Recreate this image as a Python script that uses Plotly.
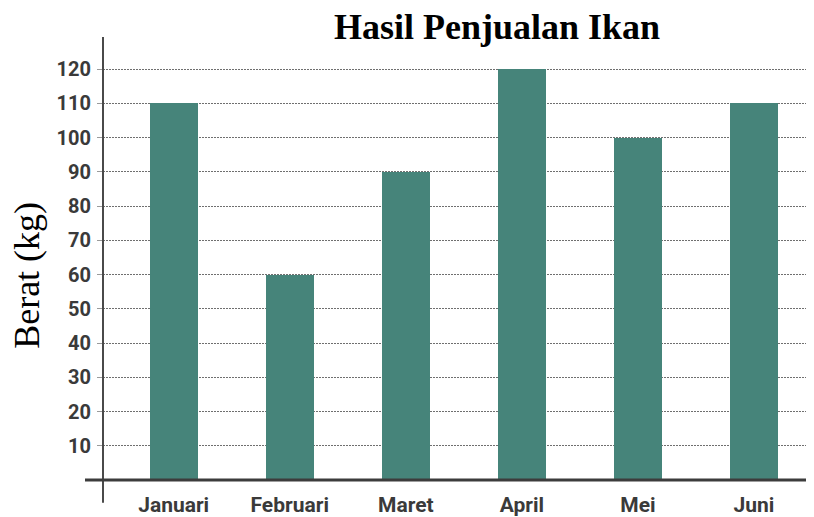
import plotly.graph_objects as go

months = ["Januari", "Februari", "Maret", "April", "Mei", "Juni"]
berat = [110, 60, 90, 120, 100, 110]
y_ticks = [10, 20, 30, 40, 50, 60, 70, 80, 90, 100, 110, 120]
title_text = "Hasil Penjualan Ikan"
y_title = "Berat (kg)"

# page body has an 8px margin, so the figure is sized/positioned accordingly
OFF = 8
W, H = 814 - OFF, 517 - OFF
L, R, T, B = 103 - OFF, 0, 37 - OFF, 33
PW, PH = W - L - R, H - T - B

def px_x(x):
    return (x - OFF - L) / PW

def px_y(y):
    return ((H - B) - (y - OFF)) / PH

fig = go.Figure()
fig.add_trace(go.Bar(
    x=list(range(len(months))),
    y=berat,
    width=0.414,
    marker=dict(color="#46847a", line=dict(width=0)),
    hoverinfo="y",
))

fig.update_layout(
    width=W, height=H,
    margin=dict(l=L, r=R, t=T, b=B, pad=0),
    paper_bgcolor="white",
    plot_bgcolor="white",
    showlegend=False,
    bargap=0,
    xaxis=dict(
        range=[-0.609, 5.517],
        tickmode="array",
        tickvals=list(range(len(months))),
        ticktext=months,
        showgrid=False,
        zeroline=False,
        showline=False,
        ticks="outside",
        ticklen=6,
        tickcolor="rgba(0,0,0,0)",
        tickfont=dict(family="Roboto", size=21, color="#3a3a3a", weight="bold"),
        fixedrange=True,
    ),
    yaxis=dict(
        range=[0, 129.4],
        tickmode="array",
        tickvals=y_ticks,
        ticktext=[str(v) for v in y_ticks],
        showgrid=True,
        gridcolor="#6f6f6f",
        gridwidth=1,
        griddash="1.5px,1.5px",
        zeroline=False,
        showline=False,
        ticks="outside",
        ticklen=5,
        tickcolor="#9a9a9a",
        tickwidth=1,
        ticklabelstandoff=2,
        tickfont=dict(family="Roboto", size=20, color="#3a3a3a", weight="bold"),
        fixedrange=True,
    ),
    shapes=[
        # y axis line (extends below the x axis)
        dict(type="line", xref="paper", yref="paper", x0=0, x1=0, y0=px_y(507), y1=1.0,
             line=dict(color="#4a4a4a", width=2), layer="above"),
        # x axis line (extends left of the y axis)
        dict(type="line", xref="paper", yref="paper", x0=px_x(85), x1=1.0, y0=0, y1=0,
             line=dict(color="#3c3c3c", width=3), layer="above"),
    ],
    annotations=[
        dict(text=title_text, xref="paper", yref="paper",
             x=px_x(497), y=px_y(27),
             showarrow=False, xanchor="center", yanchor="middle",
             font=dict(family="Liberation Serif", size=36, color="#000000", weight="bold")),
        dict(text=y_title, xref="paper", yref="paper",
             x=px_x(27), y=px_y(278),
             showarrow=False, xanchor="center", yanchor="middle", textangle=-90,
             font=dict(family="Liberation Serif", size=36, color="#000000")),
    ],
)

fig.write_html("out.html")
